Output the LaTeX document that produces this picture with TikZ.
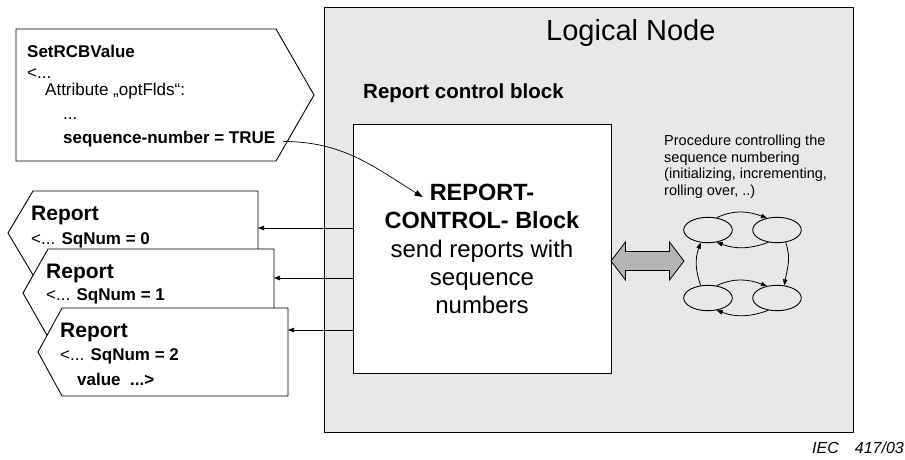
\documentclass[tikz,border=0pt]{standalone}
\usepackage{fontspec}
\setmainfont{Liberation Sans}
\usetikzlibrary{arrows.meta,shapes.geometric}
\definecolor{lngray}{HTML}{E8E8E8}
\definecolor{arrgray}{HTML}{B4B4B4}
\begin{document}
\begin{tikzpicture}[x=1pt,y=1pt,
  txt/.style={inner sep=0pt, anchor=base west},
  ctr/.style={inner sep=0pt, anchor=base},
  shp/.style={draw=black, line width=0.9pt, fill=white},
  fsmall/.style={font=\fontsize{17}{20}\selectfont},
  fsmallb/.style={font=\bfseries\fontsize{17}{20}\selectfont},
  frep/.style={font=\bfseries\fontsize{21}{24}\selectfont},
  fbig/.style={font=\fontsize{24}{28}\selectfont},
  fbigb/.style={font=\bfseries\fontsize{23.5}{28}\selectfont},
  fproc/.style={font=\fontsize{14.5}{17}\selectfont},
  conn/.style={line width=0.7pt, -{Triangle[length=6pt,width=4.5pt]}},
  loop/.style={line width=0.8pt, -{Triangle[length=6pt,width=4.5pt]}},
  st/.style={ellipse, draw, line width=0.9pt, minimum width=48.6pt, minimum height=25.4pt, inner sep=0pt}
]
\useasboundingbox (0,0) rectangle (905,-459);

% Logical node
\node[draw, line width=0.9pt, fill=lngray, minimum width=529pt, minimum height=425pt, anchor=north west, inner sep=0pt] (ln) at (324,-7) {};
\node[txt, font=\fontsize{29}{33}\selectfont] (lntitle) at (546,-40) {Logical Node};
\node[txt, font=\bfseries\fontsize{20.5}{24}\selectfont] (rcbtitle) at (363,-98) {Report control block};

% report control block
\node[draw, line width=0.9pt, fill=white, minimum width=258pt, minimum height=249pt, anchor=north west, inner sep=0pt] (rcb) at (353,-124) {};
\node[ctr, fbigb] (rep1) at (482,-200) {REPORT-};
\node[ctr, fbigb] (rep2) at (482,-228) {CONTROL- Block};
\node[ctr, fbig] (rep3) at (482,-257) {send reports with};
\node[ctr, fbig] (rep4) at (482,-285) {sequence};
\node[ctr, fbig] (rep5) at (482,-313) {numbers};

% procedure text
\node[txt, fproc] (p1) at (664,-145) {Procedure controlling the};
\node[txt, fproc] (p2) at (664,-162) {sequence numbering};
\node[txt, fproc] (p3) at (664,-178) {(initializing, incrementing,};
\node[txt, fproc] (p4) at (664,-195) {rolling over, ..)};

% state machine
\node[st] (e1) at (708,-230) {};
\node[st] (e2) at (777,-230) {};
\node[st] (e3) at (708,-298) {};
\node[st] (e4) at (777,-298) {};
\draw[loop] (e1.55) to[out=25,in=160] (e2.130);
\draw[loop] (e2.235) to[out=200,in=-20] (e1.305);
\draw[loop] (e2.-55) to[out=-70,in=80] (e4.60);
\draw[loop] (e3.120) to[out=110,in=-110] (e1.-120);
\draw[loop] (e3.55) to[out=25,in=160] (e4.130);
\draw[loop] (e4.235) to[out=200,in=-20] (e3.305);

% double arrow
\draw[line width=0.8pt, fill=arrgray] (611,-261) -- (625.5,-242) -- (625.5,-251.5) -- (669.5,-251.5) -- (669.5,-242) -- (684,-261) -- (669.5,-280) -- (669.5,-270.5) -- (625.5,-270.5) -- (625.5,-280) -- cycle;

% SetRCBValue
\draw[shp] (16,-29) -- (276,-29) -- (314,-95) -- (276,-161) -- (16,-161) -- cycle;
\node[txt, fsmallb] (s1) at (27,-57.3) {SetRCBValue};
\node[txt, fsmall] (s2) at (27,-78) {<...};
\node[txt, fsmall] (s3) at (45,-95) {Attribute „optFlds“:};
\node[txt, fsmall] (s4) at (63,-119.3) {...};
\node[txt, fsmallb] (seqtrue) at (63,-143.5) {sequence-number = TRUE};
\draw[line width=0.7pt, -{Triangle[length=8pt,width=6pt]}] ([xshift=8pt,yshift=2pt]seqtrue.base east) to[out=0,in=148] ([xshift=-7pt,yshift=3pt]rep1.base west);

% reports
\draw[shp] (258,-191) -- (33,-191) -- (8,-233) -- (33,-275) -- (258,-275) -- cycle;
\node[txt, frep] (r0a) at (31,-220) {Report};
\node[txt, fsmall] (r0b) at (31,-244) {<... \textbf{SqNum = 0}};
\draw[shp] (274,-249) -- (48,-249) -- (23,-293) -- (48,-337) -- (274,-337) -- cycle;
\node[txt, frep] (r1a) at (46,-278) {Report};
\node[txt, fsmall] (r1b) at (46,-300) {<... \textbf{SqNum = 1}};
\draw[shp] (288,-308) -- (62,-308) -- (38,-352) -- (62,-396) -- (288,-396) -- cycle;
\node[txt, frep] (r2a) at (60,-337) {Report};
\node[txt, fsmall] (r2b) at (60,-360) {<... \textbf{SqNum = 2}};
\node[txt, fsmallb] (r2c) at (77,-385) {value \ ...>};

\coordinate (r0e) at (258,-228);
\coordinate (r1e) at (274,-278);
\coordinate (r2e) at (288,-330);
\draw[conn] (rcb.west |- r0e) -- (r0e);
\draw[conn] (rcb.west |- r1e) -- (r1e);
\draw[conn] (rcb.west |- r2e) -- (r2e);

% IEC
\node[anchor=base east, inner sep=0pt, font=\itshape\fontsize{16}{18}\selectfont] (iec) at (904,-453) {IEC\hspace{16pt}417/03};
\end{tikzpicture}
\end{document}
